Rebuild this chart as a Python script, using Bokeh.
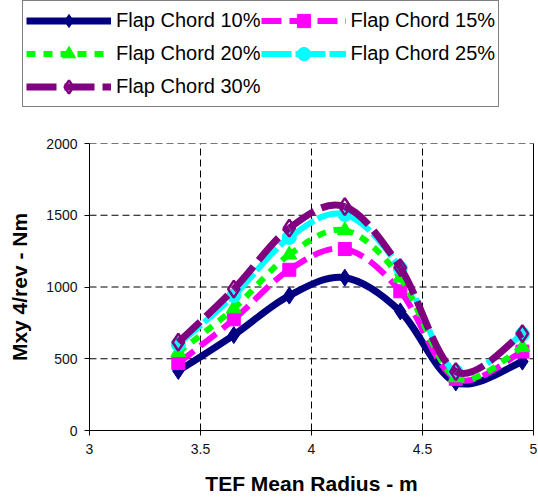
from bokeh.plotting import figure
from bokeh.models import Legend, LegendItem, FixedTicker, Range1d, Label
from bokeh.embed import file_html
from bokeh.resources import INLINE

# ---- data ----
radius = [3.4, 3.65, 3.9, 4.15, 4.4, 4.65, 4.95]
chord10 = [415, 665, 940, 1065, 830, 335, 480]
chord15 = [470, 775, 1120, 1265, 970, 360, 550]
chord20 = [545, 850, 1225, 1395, 1065, 370, 580]
chord25 = [600, 940, 1345, 1505, 1130, 410, 670]
chord30 = [615, 985, 1410, 1560, 1135, 410, 675]
labels = ["Flap Chord 10%", "Flap Chord 15%", "Flap Chord 20%",
          "Flap Chord 25%", "Flap Chord 30%"]
x_ticks = [3, 3.5, 4, 4.5, 5]
y_ticks = [0, 500, 1000, 1500, 2000]
X_MIN, X_MAX = 3, 5
Y_MIN, Y_MAX = 0, 2000
x_title = "TEF Mean Radius - m"
y_title = "Mxy 4/rev - Nm"

FONT = "Liberation Sans"

# Canvas geometry: plot area 89..533 px (x) and 143..430 px (y); the frame covers
# the whole canvas so the legend box and axis texts outside the plot area are not clipped.
W, H = 538, 498
AREA_L, AREA_R, AREA_T, AREA_B = 89, 533, 143, 430
x_per_px = (X_MAX - X_MIN) / (AREA_R - AREA_L)
y_per_px = (Y_MAX - Y_MIN) / (AREA_B - AREA_T)
x_start = X_MIN - AREA_L * x_per_px
x_end = X_MAX + (W - AREA_R) * x_per_px
y_end = Y_MIN + AREA_B * y_per_px
y_start = Y_MIN - (H - AREA_B) * y_per_px

p = figure(width=W, height=H, output_backend="svg", toolbar_location=None,
           x_range=Range1d(x_start, x_end), y_range=Range1d(y_start, y_end),
           min_border_left=0, min_border_right=0, min_border_top=0,
           min_border_bottom=0)
p.outline_line_color = None
p.background_fill_color = "white"
p.border_fill_color = "white"
p.grid.visible = False

for ax in (p.xaxis[0], p.yaxis[0]):
    ax.axis_line_color = "black"
    ax.axis_line_width = 1
    ax.major_tick_line_color = "black"
    ax.major_tick_out = 5
    ax.major_tick_in = 0
    ax.minor_tick_line_color = None
    ax.major_label_text_font = FONT
    ax.major_label_text_font_size = "14px"
    ax.major_label_text_color = "#111111"
    ax.axis_label_text_font = FONT
    ax.axis_label_text_font_size = "21px"
    ax.axis_label_text_font_style = "bold"
    ax.axis_label_text_color = "black"

p.xaxis.ticker = FixedTicker(ticks=x_ticks)
p.yaxis.ticker = FixedTicker(ticks=y_ticks)
p.xaxis.bounds = (X_MIN, X_MAX)
p.yaxis.bounds = (Y_MIN, Y_MAX)
p.xaxis.fixed_location = Y_MIN
p.yaxis.fixed_location = X_MIN
p.xaxis.major_label_overrides = {t: ("%g" % t) for t in x_ticks}
p.yaxis.axis_label = y_title
p.xaxis.major_label_standoff = 8
p.yaxis.major_label_standoff = 7
p.yaxis.axis_label_standoff = 12

# x-axis title, centred under the plot area
p.add_layout(Label(x=(X_MIN + X_MAX) / 2, y=H - 483, y_units="screen",
                   text=x_title, text_align="center", text_baseline="middle",
                   text_font=FONT, text_font_size="21px", text_font_style="bold",
                   text_color="black"))

# dashed grid lines limited to the plot area, solid right border
gx = x_ticks[1:-1]
p.segment(x0=gx, y0=[Y_MIN] * len(gx), x1=gx, y1=[Y_MAX] * len(gx),
          line_color="black", line_width=1, line_dash="7 4")
gy = y_ticks[1:-1]
p.segment(x0=[X_MIN] * len(gy), y0=gy, x1=[X_MAX] * len(gy), y1=gy,
          line_color="black", line_width=1, line_dash="7 4")
p.segment(x0=[X_MIN], y0=[Y_MAX], x1=[X_MAX], y1=[Y_MAX],
          line_color="#777777", line_width=1, line_dash="7 4")
p.segment(x0=[X_MAX], y0=[Y_MIN], x1=[X_MAX], y1=[Y_MAX],
          line_color="black", line_width=1)


def smooth_segments(xs, ys):
    """Bezier control points (Catmull-Rom style smoothing, as a spreadsheet's smoothed line)."""
    n = len(xs)
    x0, y0, x1, y1, cx0, cy0, cx1, cy1 = [], [], [], [], [], [], [], []
    for i in range(n - 1):
        im = max(i - 1, 0)
        ip = min(i + 2, n - 1)
        x0.append(xs[i]); y0.append(ys[i])
        x1.append(xs[i + 1]); y1.append(ys[i + 1])
        cx0.append(xs[i] + (xs[i + 1] - xs[im]) / 6.0)
        cy0.append(ys[i] + (ys[i + 1] - ys[im]) / 6.0)
        cx1.append(xs[i + 1] - (xs[ip] - xs[i]) / 6.0)
        cy1.append(ys[i + 1] - (ys[ip] - ys[i]) / 6.0)
    return dict(x0=x0, y0=y0, x1=x1, y1=y1, cx0=cx0, cy0=cy0, cx1=cx1, cy1=cy1)


series = [
    (chord10, "#000080", "solid", 7, "diamond", 17, "#000080", "#000080", 1),
    (chord15, "#FF00FF", "20 8", 6, "square", 13, "#FF00FF", "#FF00FF", 1),
    (chord20, "#00FF00", "9 8", 6, "triangle", 15, "#00FF00", "#00FF00", 1),
    (chord25, "#00FFFF", "30 4", 6, "circle", 14, "#00FFFF", "#00FFFF", 1),
    (chord30, "#800080", "30 8", 7, "diamond", 17, None, "#800080", 2.5),
]

items = []
for (vals, color, dash, lw, marker, size, fill, mline, mlw), lab in zip(series, labels):
    seg = smooth_segments(radius, vals)
    r1 = p.bezier(x0="x0", y0="y0", x1="x1", y1="y1", cx0="cx0", cy0="cy0",
                  cx1="cx1", cy1="cy1", source=seg, line_color=color,
                  line_width=lw, line_dash=dash)
    r2 = p.scatter(radius, vals, marker=marker, size=size, fill_color=fill,
                   line_color=mline, line_width=mlw)
    items.append(LegendItem(label=lab, renderers=[r1, r2]))

LEG_L, LEG_B = 22, 107
legend = Legend(items=items, orientation="horizontal", ncols=2,
                location=(LEG_L, H - LEG_B),
                glyph_width=85, glyph_height=33, label_height=33,
                label_standoff=5, spacing=0, padding=3, margin=0,
                label_text_font=FONT, label_text_font_size="20px",
                label_text_color="black",
                border_line_color="black", border_line_width=1,
                background_fill_color="white", background_fill_alpha=1)
p.add_layout(legend, "center")

open("out.html", "w").write(file_html(p, INLINE))
